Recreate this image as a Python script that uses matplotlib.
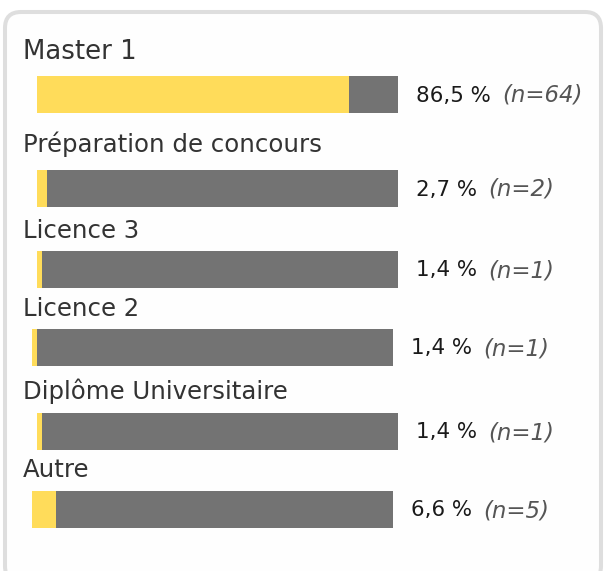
import matplotlib
matplotlib.use("Agg")
import matplotlib.pyplot as plt
from matplotlib.patches import FancyBboxPatch

# ---- data ----
categories = ["Master 1", "Préparation de concours", "Licence 3", "Licence 2",
              "Diplôme Universitaire", "Autre"]
pct_values = [86.5, 2.7, 1.4, 1.4, 1.4, 6.6]
pct_labels = ["86,5 %", "2,7 %", "1,4 %", "1,4 %", "1,4 %", "6,6 %"]
n_values = [64, 2, 1, 1, 1, 5]

# ---- layout (pixel space) ----
W, H = 605, 571
label_baseline = [59, 152, 238, 316, 399, 477]
bar_center = [94.5, 188.5, 269.5, 347.5, 431.5, 509.5]
bar_left = [37, 37, 37, 32, 37, 32]
bar_len = 361          # length of 100 %
bar_h = 37
value_gap = 18         # between bar end and value text
label_sizes = [18.7, 17.6, 17.6, 17.6, 17.6, 17.6]

YELLOW = "#FFDC5A"
GREY = "#737373"

fig = plt.figure(figsize=(W / 100, H / 100), dpi=100)
fig.patch.set_facecolor("white")
ax = fig.add_axes([0, 0, 1, 1])
ax.set_xlim(0, W)
ax.set_ylim(H, 0)
ax.axis("off")

# card with rounded border
card = FancyBboxPatch((5, 12), 596, 570, boxstyle="round,pad=0,rounding_size=16",
                      linewidth=2.9, edgecolor="#dedede", facecolor="#fefefe", zorder=0)
ax.add_patch(card)

scale = bar_len / 100.0
for i, cat in enumerate(categories):
    ax.text(23, label_baseline[i], cat, fontsize=label_sizes[i], color="#333333",
            va="baseline", ha="left", family="DejaVu Sans")
    ax.barh(bar_center[i], 100 * scale, height=bar_h, left=bar_left[i],
            color=GREY, zorder=2)
    ax.barh(bar_center[i], pct_values[i] * scale, height=bar_h, left=bar_left[i],
            color=YELLOW, zorder=3)
    t = ax.text(bar_left[i] + 100 * scale + value_gap, bar_center[i] + 1, pct_labels[i],
                fontsize=15.4, color="#1a1a1a", va="center", ha="left",
                family="DejaVu Sans")
    ax.annotate(f"(n={n_values[i]})", xy=(1, 0.5), xycoords=t,
                xytext=(8, 0), textcoords="offset points",
                fontsize=16.5, style="italic", color="#555555",
                va="center", ha="left", family="DejaVu Sans")

fig.savefig("out.png", dpi=100, facecolor="white")
